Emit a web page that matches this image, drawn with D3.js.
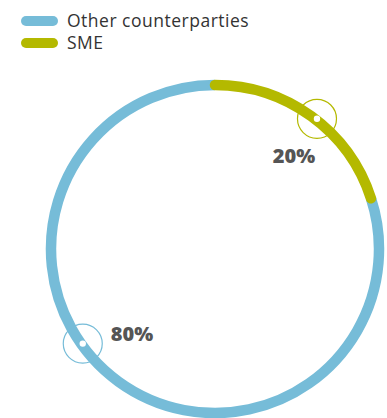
<!DOCTYPE html>
<html>
<head>
<meta charset="utf-8">
<script src="https://cdn.jsdelivr.net/npm/d3@7"></script>
<style>
html,body{margin:0;padding:0;background:#fff;}
svg{display:block;}
</style>
</head>
<body>
<svg id="chart" width="387" height="418"></svg>
<script>
// Data
const categories = ["SME", "Other counterparties"];
const values = [20, 80];
const colors = ["#b4b900", "#76bcd8"];
const legendOrder = ["Other counterparties", "SME"];
const labelText = ["20%", "80%"];

const svg = d3.select("#chart");
const cx = 215, cy = 249, R = 164, SW = 10.5;

const pie = d3.pie().sort(null).value(d => d)(values);
const g = svg.append("g").attr("transform", `translate(${cx},${cy})`);

function arcPath(a0, a1) {
  const p = d3.path();
  p.arc(0, 0, R, a0 - Math.PI / 2, a1 - Math.PI / 2, false);
  return p.toString();
}

const markerAngles = pie.map((a, i) => i === 0 ? (a.startAngle + a.endAngle) / 2 + 0.035 : (a.startAngle + a.endAngle) / 2 + 0.32);
const markers = markerAngles.map(ang => [R * Math.sin(ang) + 1, -R * Math.cos(ang) - 1]);

// marker rings (beneath the donut)
pie.forEach((a, i) => {
  g.append("circle").attr("cx", markers[i][0]).attr("cy", markers[i][1]).attr("r", 19.5)
    .attr("fill", "#fff").attr("stroke", colors[i]).attr("stroke-width", 1.2);
});

// draw "other" first (underneath), then SME with round caps
[1, 0].forEach(i => {
  const a = pie[i];
  g.append("path")
    .attr("d", arcPath(a.startAngle, a.endAngle))
    .attr("fill", "none")
    .attr("stroke", colors[i])
    .attr("stroke-width", SW)
    .attr("stroke-linecap", i === 0 ? "round" : "butt");
});

const labelOffsets = [[-23, 44], [28, -3]];
pie.forEach((a, i) => {
  const [mx, my] = markers[i];
  g.append("circle").attr("cx", mx).attr("cy", my).attr("r", 3.2).attr("fill", "#fff");
  g.append("text")
    .attr("x", mx + labelOffsets[i][0])
    .attr("y", my + labelOffsets[i][1])
    .attr("text-anchor", i === 0 ? "middle" : "start")
    .attr("font-family", "'Open Sans', sans-serif")
    .attr("font-weight", 800)
    .attr("font-size", 20)
    .attr("fill", "#555")
    .text(labelText[i]);
});

// legend
const lg = svg.append("g");
legendOrder.forEach((name, j) => {
  const idx = categories.indexOf(name);
  const y = 21 + j * 22;
  lg.append("line").attr("x1", 26).attr("x2", 53).attr("y1", y).attr("y2", y)
    .attr("stroke", colors[idx]).attr("stroke-width", 10).attr("stroke-linecap", "round");
  lg.append("text").attr("x", 67).attr("y", y + 6)
    .attr("font-family", "'Open Sans', sans-serif")
    .attr("font-size", 17.5).attr("letter-spacing", 0.5).attr("fill", "#333")
    .text(name);
});
</script>
</body>
</html>
